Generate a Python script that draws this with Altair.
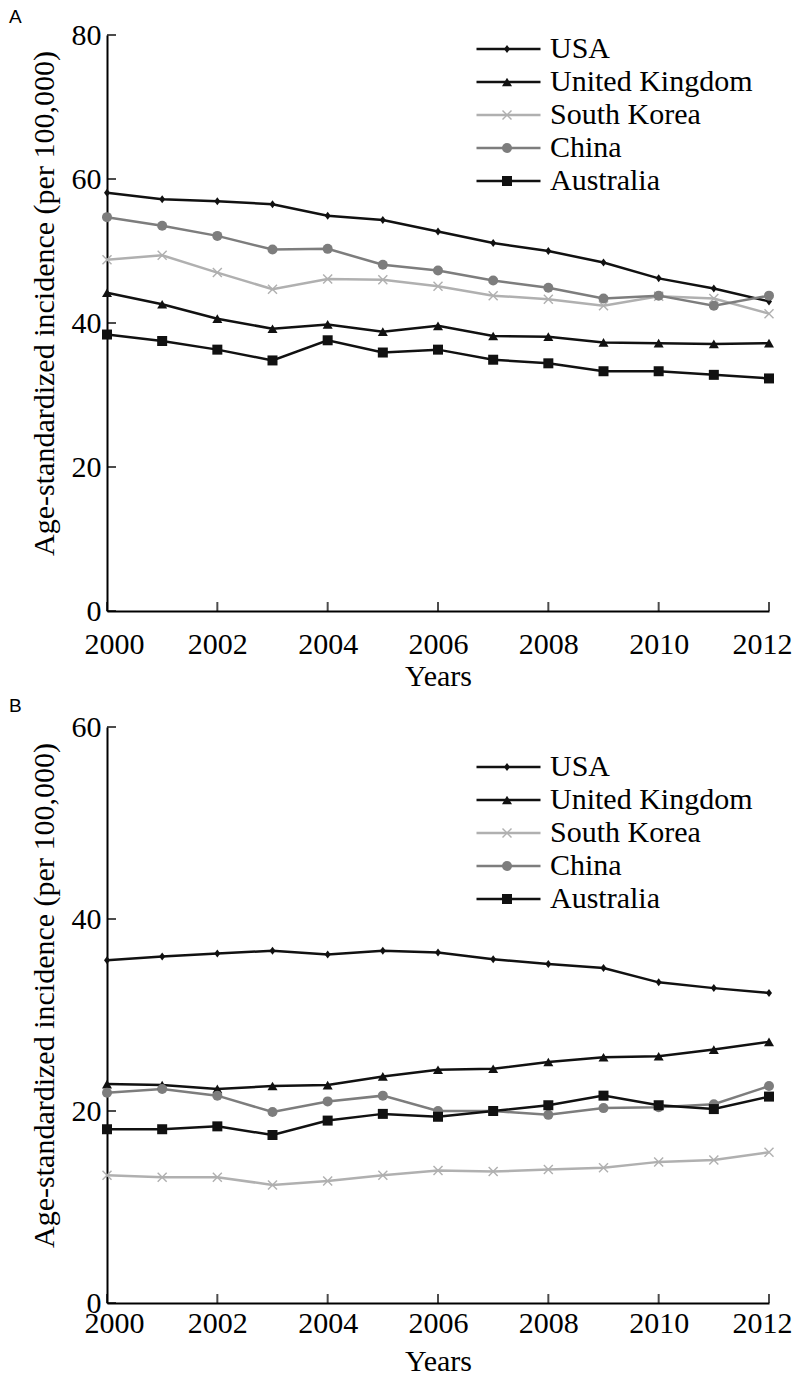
import altair as alt
import pandas as pd

YEARS = list(range(2000, 2013))
COUNTRIES = ["USA", "United Kingdom", "South Korea", "China", "Australia"]
COLORS = ["#111111", "#111111", "#b0b0b0", "#7d7d7d", "#111111"]
SHAPES = [
    "M0,-0.8L0.6,0L0,0.8L-0.6,0Z",
    "triangle-up",
    "M-1,-0.8L-0.8,-1L0,-0.2L0.8,-1L1,-0.8L0.2,0L1,0.8L0.8,1L0,0.2L-0.8,1L-1,0.8L-0.2,0Z",
    "circle",
    "square",
]

X_TICKS = [2000, 2002, 2004, 2006, 2008, 2010, 2012]
Y_TICKS_A = [0, 20, 40, 60, 80]
Y_TICKS_B = [0, 20, 40, 60]

# Panel A
A_USA = [58.1, 57.2, 56.9, 56.5, 54.9, 54.3, 52.7, 51.1, 50.0, 48.4, 46.2, 44.8, 43.0]
A_UK = [44.2, 42.6, 40.6, 39.2, 39.8, 38.8, 39.6, 38.2, 38.1, 37.3, 37.2, 37.1, 37.2]
A_KOREA = [48.8, 49.4, 47.0, 44.7, 46.1, 46.0, 45.1, 43.8, 43.3, 42.4, 43.7, 43.4, 41.3]
A_CHINA = [54.7, 53.5, 52.1, 50.2, 50.3, 48.1, 47.3, 45.9, 44.9, 43.4, 43.8, 42.4, 43.8]
A_AUS = [38.4, 37.5, 36.3, 34.8, 37.6, 35.9, 36.3, 34.9, 34.4, 33.3, 33.3, 32.8, 32.3]

# Panel B
B_USA = [35.7, 36.1, 36.4, 36.7, 36.3, 36.7, 36.5, 35.8, 35.3, 34.9, 33.4, 32.8, 32.3]
B_UK = [22.8, 22.7, 22.3, 22.6, 22.7, 23.6, 24.3, 24.4, 25.1, 25.6, 25.7, 26.4, 27.2]
B_KOREA = [13.3, 13.1, 13.1, 12.3, 12.7, 13.3, 13.8, 13.7, 13.9, 14.1, 14.7, 14.9, 15.7]
B_CHINA = [21.9, 22.3, 21.6, 19.9, 21.0, 21.6, 20.0, 20.0, 19.6, 20.3, 20.4, 20.7, 22.6]
B_AUS = [18.1, 18.1, 18.4, 17.5, 19.0, 19.7, 19.4, 20.0, 20.6, 21.6, 20.6, 20.2, 21.5]

FONT = "Liberation Serif"
PLOT_W, PLOT_H = 662, 576
Y_TITLE = "Age-standardized incidence (per 100,000)"


def make_df(series):
    rows = []
    for c, vals in zip(COUNTRIES, series):
        for yr, v in zip(YEARS, vals):
            rows.append({"year": yr, "value": v, "country": c, "country_s": c})
    return pd.DataFrame(rows)


def panel(series, ymax, yticks, letter, legend_y, title_offset, x_label_pad, x_title_pad):
    df = make_df(series)
    xs = alt.Scale(domain=[2000, 2012], nice=False, zero=False)
    ys = alt.Scale(domain=[0, ymax], nice=False)
    axis_font = dict(labelFont=FONT, labelFontSize=30, labelColor="black",
                     titleFont=FONT, titleFontSize=30, titleFontWeight="normal",
                     titleColor="black", domainColor="black", domainWidth=2,
                     ticks=False, grid=False)
    x_axis = alt.Axis(values=X_TICKS, format="d", title="Years", labelFlush=True,
                      labelFlushOffset=23, labelPadding=x_label_pad,
                      titlePadding=x_title_pad, **axis_font)
    y_axis = alt.Axis(values=yticks, title=Y_TITLE, labelPadding=6, titlePadding=12,
                      titleY=268, **axis_font)
    x_enc = alt.X("year:Q", scale=xs, axis=x_axis)
    y_enc = alt.Y("value:Q", scale=ys, axis=y_axis)
    leg_common = dict(
        title=None, orient="none", legendX=368, legendY=legend_y,
        labelFont=FONT, labelColor="black", labelOffset=8,
        labelLimit=400, clipHeight=30, rowPadding=3, padding=0,
    )
    line_leg = alt.Legend(symbolType="stroke", symbolSize=4096, symbolStrokeWidth=2.5,
                          labelFontSize=30, zindex=1, **leg_common)
    pt_leg = alt.Legend(symbolSize=100, symbolOffset=27, labelOpacity=0, labelFontSize=2,
                        zindex=2, symbolStrokeWidth=0, **leg_common)

    lines = alt.Chart(df).mark_line(strokeWidth=2.5).encode(
        x=x_enc, y=y_enc,
        color=alt.Color("country:N", scale=alt.Scale(domain=COUNTRIES, range=COLORS),
                        sort=COUNTRIES, legend=line_leg),
    )
    points = alt.Chart(df).mark_point(filled=True, size=100, opacity=1).encode(
        x=x_enc, y=y_enc,
        color=alt.Color("country_s:N", scale=alt.Scale(domain=COUNTRIES, range=COLORS),
                        sort=COUNTRIES, legend=pt_leg),
        shape=alt.Shape("country_s:N", scale=alt.Scale(domain=COUNTRIES, range=SHAPES),
                        sort=COUNTRIES, legend=pt_leg),
    )
    yt = alt.Chart(pd.DataFrame({"value": yticks})).mark_tick(
        orient="horizontal", size=9, thickness=2, color="black"
    ).encode(y=y_enc, x=alt.value(4.5))
    xt = alt.Chart(pd.DataFrame({"year": X_TICKS})).mark_tick(
        orient="vertical", size=9, thickness=2, color="black"
    ).encode(x=x_enc, y=alt.value(PLOT_H - 4.5))

    return alt.layer(lines, points, yt, xt).resolve_scale(
        color="independent", shape="independent"
    ).properties(
        width=PLOT_W, height=PLOT_H,
        title=alt.Title(letter, anchor="start", font="Liberation Sans", fontSize=19,
                        fontWeight="normal", color="black", baseline="top",
                        offset=title_offset, dx=-20),
    )


chart_a = panel([A_USA, A_UK, A_KOREA, A_CHINA, A_AUS], 80, Y_TICKS_A, "A", -1, -7, 18, 2)
chart_b = panel([B_USA, B_UK, B_KOREA, B_CHINA, B_AUS], 60, Y_TICKS_B, "B", 25, -4, 5, 8)

chart = alt.vconcat(chart_a, chart_b, spacing=6).resolve_scale(
    color="independent", shape="independent"
).properties(
    padding={"left": 0, "top": 0, "right": 0, "bottom": 0}
).configure_view(
    strokeWidth=0
)

chart.save("out.html", embed_options={"renderer": "svg", "actions": False})
